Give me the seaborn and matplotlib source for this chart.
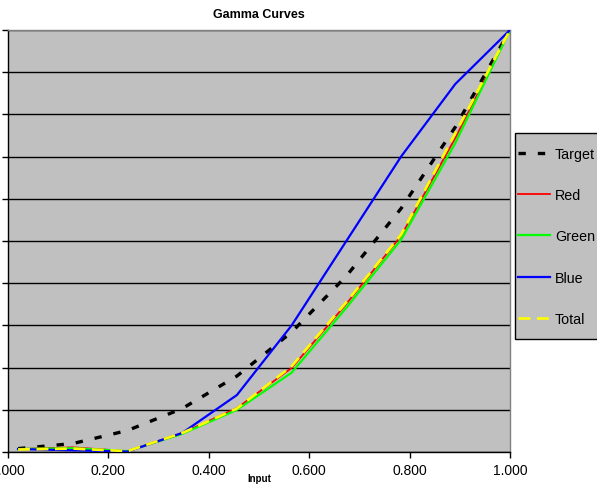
import matplotlib
matplotlib.use('agg')
import matplotlib.pyplot as plt
import seaborn as sns
from matplotlib.patches import Rectangle
from matplotlib.ticker import FormatStrFormatter, MultipleLocator

# values
input_levels = [0.02, 0.129, 0.238, 0.347, 0.456, 0.565, 0.674, 0.783, 0.891, 1.0]
target = [0.008, 0.020, 0.051, 0.103, 0.180, 0.284, 0.417, 0.577, 0.770, 1.0]
red = [0.007, 0.011, 0.002, 0.045, 0.104, 0.199, 0.351, 0.512, 0.744, 1.0]
green = [0.007, 0.009, 0.002, 0.043, 0.100, 0.188, 0.342, 0.503, 0.732, 1.0]
blue = [0.007, 0.004, 0.001, 0.045, 0.135, 0.300, 0.500, 0.700, 0.872, 1.0]
total = [0.006, 0.008, 0.002, 0.045, 0.103, 0.203, 0.355, 0.515, 0.755, 1.0]

plt.rcParams['font.family'] = ['Liberation Sans', 'DejaVu Sans']

fig = plt.figure(figsize=(5.97, 4.89), dpi=100)
ax = fig.add_axes([8 / 597, 36 / 489, 502 / 597, 422 / 489])
ax.set_facecolor('#c0c0c0')

sns.lineplot(x=input_levels, y=target, ax=ax, color='black', linewidth=2.4,
             linestyle=(0, (2.2, 3.6)), label='Target', zorder=3)
sns.lineplot(x=input_levels, y=red, ax=ax, color='#ff0000', linewidth=1.3,
             label='Red', zorder=4)
sns.lineplot(x=input_levels, y=green, ax=ax, color='#00ff00', linewidth=1.6,
             label='Green', zorder=4)
sns.lineplot(x=input_levels, y=blue, ax=ax, color='#0000ff', linewidth=1.6,
             label='Blue', zorder=5)
sns.lineplot(x=input_levels, y=total, ax=ax, color='#ffff00', linewidth=1.9,
             linestyle=(0, (4.5, 2.5)), label='Total', zorder=6)

ax.set_xlim(0, 1)
ax.set_ylim(0, 1)
ax.xaxis.set_major_locator(MultipleLocator(0.2))
ax.xaxis.set_major_formatter(FormatStrFormatter('%.3f'))
ax.yaxis.set_major_locator(MultipleLocator(0.1))
ax.set_yticklabels([])
ax.grid(axis='y', color='black', linewidth=1)
ax.set_axisbelow(True)
ax.tick_params(axis='both', direction='out', length=4, width=1, color='black',
               labelsize=10, pad=4)

for side in ['left', 'bottom']:
    ax.spines[side].set_color('black')
    ax.spines[side].set_linewidth(1)
for side in ['top', 'right']:
    ax.spines[side].set_color('#808080')
    ax.spines[side].set_linewidth(1)

ax.set_xlabel('Input', fontsize=7, fontweight='bold')
ax.xaxis.set_label_coords(0.5, -0.05)
ax.set_ylabel('')
ax.set_title('Gamma Curves', fontsize=9, fontweight='bold', pad=9)

# legend box drawn separately so the padding can differ per side
fig.patches.append(Rectangle((515 / 597, 149 / 489), 90 / 597, 206 / 489,
                             transform=fig.transFigure, facecolor='#c0c0c0',
                             edgecolor='black', linewidth=1, zorder=0))

handles, labels = ax.get_legend_handles_labels()
if ax.get_legend() is not None:
    ax.get_legend().remove()
fig.legend(handles, labels, loc='upper left',
           bbox_to_anchor=(518 / 597, 1 - 148 / 489), fontsize=10.3,
           frameon=False, borderaxespad=0, borderpad=0, handlelength=2.25,
           handletextpad=0.33, labelspacing=1.9)

fig.savefig('out.png', dpi=100)
